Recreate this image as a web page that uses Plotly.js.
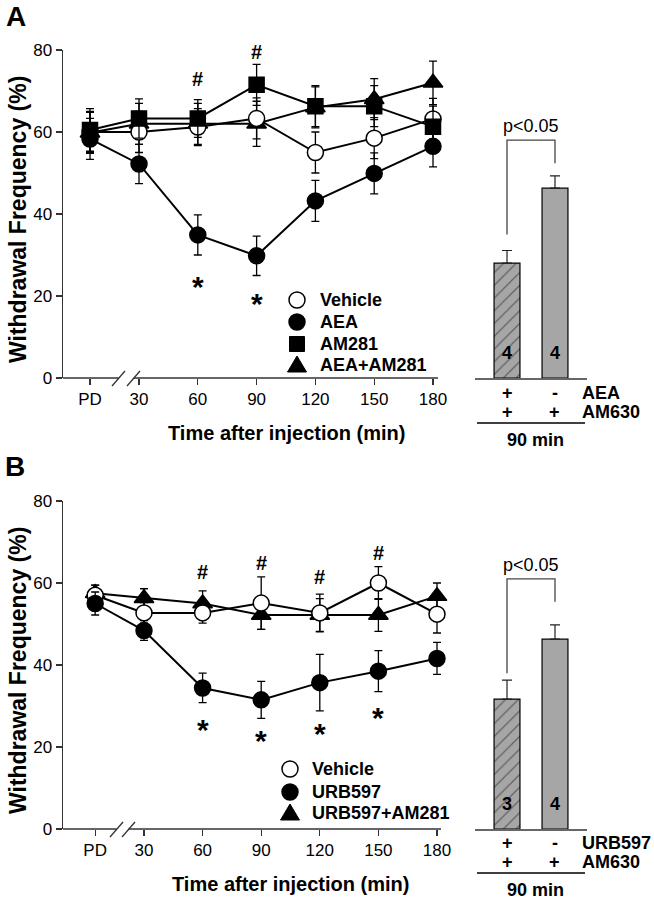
<!DOCTYPE html>
<html><head><meta charset="utf-8">
<script src="https://cdn.plot.ly/plotly-3.0.1.min.js"></script>
<style>html,body{margin:0;padding:0;background:#fff}#chart{width:654px;height:900px}</style>
</head><body><div id="chart"></div>
<script>
// ---------- data ----------
const timeLabels = ['PD','30','60','90','120','150','180'];
const timePos = [5,30,60,90,120,150,180];

// Panel A
const vehicleA = [60, 60, 61.2, 63.3, 55, 58.5, 63.2];
const vehicleAErr = [5, 5, 4.5, 5, 5, 5, 5];
const aeaA = [58.3, 52.2, 34.9, 29.8, 43.2, 49.9, 56.5];
const aeaAErr = [5, 4.8, 4.9, 4.8, 5, 5, 5];
const am281A = [60.5, 63.3, 63.3, 71.5, 66.3, 66.3, 61.3];
const am281AErr = [5.2, 4.8, 4.6, 5, 5, 5, 5];
const aeaAm281A = [59.8, 62, 62, 62, 66, 68, 72];
const aeaAm281AErr = [5, 5, 5, 5.5, 5, 5, 5.3];
const hashAx = [60, 90], hashAy = [73, 79.5];
const starAx = [60, 90], starAy = [24, 20];
const legendA = ['Vehicle', 'AEA', 'AM281', 'AEA+AM281'];

const barPos = [1, 2];
const barA = [28, 46.3], barAErr = [3.1, 3.0], barAN = ['4', '4'];
const barARow1 = ['+', '-'], barARow2 = ['+', '+'];
const barANames = ['AEA', 'AM630'];
const bracketA = [35, 58, 52.4]; // left leg end, top, right leg end

// Panel B
const vehicleB = [57, 52.7, 52.7, 55.1, 52.7, 60, 52.4];
const vehicleBErr = [2.5, 2.5, 2.5, 6.4, 4.6, 4, 4.6];
const urbB = [55, 48.4, 34.4, 31.5, 35.7, 38.5, 41.6];
const urbBErr = [2.8, 2.4, 3.6, 4.5, 6.9, 5, 3.9];
const urbAmB = [57.5, 56.3, 55, 52.2, 52.2, 52.2, 56.8];
const urbAmBErr = [2, 2.3, 3.1, 3.5, 4, 4, 3.2];
const hashBx = [60, 90, 120, 150], hashBy = [62.7, 65, 61.5, 67.3];
const starBx = [60, 90, 120, 150], starBy = [26, 23.4, 24.9, 28.8];
const legendB = ['Vehicle', 'URB597', 'URB597+AM281'];

const barB = [31.7, 46.3], barBErr = [4.6, 3.5], barBN = ['3', '4'];
const barBRow1 = ['+', '-'], barBRow2 = ['+', '+'];
const barBNames = ['URB597', 'AM630'];
const bracketB = [38, 61, 55.4];

// ---------- helpers ----------
const F = 'Arial, "Liberation Sans", Helvetica, sans-serif';
const W = 654, H = 900;
const px = x => x / W, py = y => 1 - y / H;

function lineTrace(y, err, sym, fill, xa, ya, size) {
  return {x: timePos, y: y, type: 'scatter', mode: 'lines+markers', xaxis: xa, yaxis: ya, showlegend: false,
    line: {color: '#000', width: 2},
    marker: {symbol: sym, size: size, color: fill, line: {color: '#000', width: 1.5}},
    error_y: {type: 'data', array: err, visible: true, color: '#000', thickness: 1.3, width: 4},
    cliponaxis: false};
}
function barTrace(y, err, xa, ya) {
  return {x: barPos, y: y, type: 'bar', xaxis: xa, yaxis: ya, width: 0.54, showlegend: false,
    marker: {color: '#a6a6a6', line: {color: '#000', width: 1.2},
      pattern: {shape: ['/', ''], fillmode: 'overlay', fgcolor: '#000', size: 9, solidity: 0.12}},
    error_y: {type: 'data', array: err, arrayminus: [0, 0], symmetric: false, visible: true, color: '#222', thickness: 1.2, width: 5}};
}

const data = [
  lineTrace(aeaAm281A, aeaAm281AErr, 'triangle-up', '#000', 'x', 'y', 17),
  lineTrace(vehicleA, vehicleAErr, 'circle', '#fff', 'x', 'y', 16),
  lineTrace(am281A, am281AErr, 'square', '#000', 'x', 'y', 15),
  lineTrace(aeaA, aeaAErr, 'circle', '#000', 'x', 'y', 16),
  barTrace(barA, barAErr, 'x2', 'y2'),
  lineTrace(urbAmB, urbAmBErr, 'triangle-up', '#000', 'x3', 'y3', 17),
  lineTrace(vehicleB, vehicleBErr, 'circle', '#fff', 'x3', 'y3', 16),
  lineTrace(urbB, urbBErr, 'circle', '#000', 'x3', 'y3', 16),
  barTrace(barB, barBErr, 'x4', 'y4')
];

const tickFont = {family: F, size: 17, color: '#000'};
const yax = (dom, anchor) => ({domain: dom, anchor: anchor, range: [0, 80], tickvals: [0, 20, 40, 60, 80],
  ticks: 'outside', ticklen: 6, tickwidth: 1.3, tickcolor: '#333', showline: true, linecolor: '#333', linewidth: 1.5,
  showgrid: false, zeroline: false, tickfont: tickFont, fixedrange: true});
const xax = (dom, anchor, range) => ({domain: dom, anchor: anchor, range: range, tickvals: timePos, ticktext: timeLabels,
  ticks: 'outside', ticklen: 6, tickwidth: 1.3, tickcolor: '#333', showline: false, showgrid: false, zeroline: false,
  tickfont: tickFont, fixedrange: true});
const barX = (dom, anchor) => ({domain: dom, anchor: anchor, range: [0.333, 2.667], showline: true, linecolor: '#666', linewidth: 1.5,
  ticks: '', showticklabels: false, showgrid: false, zeroline: false, fixedrange: true});
const barY = (dom, anchor) => ({domain: dom, anchor: anchor, range: [0, 80], visible: false, fixedrange: true});

const domA = [py(378), py(50)], domB = [py(829), py(501)];
const layout = {
  width: W, height: H, margin: {l: 0, r: 0, t: 0, b: 0}, paper_bgcolor: '#fff', plot_bgcolor: 'rgba(0,0,0,0)',
  showlegend: false, font: {family: F, color: '#000'},
  xaxis: xax([px(63), px(438)], 'y', [-8.78, 182.55]),
  yaxis: yax(domA, 'x'),
  xaxis2: barX([px(475), px(587)], 'y2'),
  yaxis2: barY(domA, 'x2'),
  xaxis3: xax([px(63), px(441)], 'y3', [-11.47, 182.05]),
  yaxis3: yax(domB, 'x3'),
  xaxis4: barX([px(475), px(587)], 'y4'),
  yaxis4: barY(domB, 'x4'),
  shapes: [], annotations: []
};
const S = layout.shapes, A = layout.annotations;
const note = o => A.push(Object.assign({showarrow: false, xanchor: 'center', yanchor: 'middle'}, o));

// x-axis lines with break
function axisBreak(y, a0, g0, g1, a1) {
  S.push({type: 'line', xref: 'paper', yref: 'paper', x0: px(a0), x1: px(g0), y0: py(y), y1: py(y), line: {color: '#333', width: 1.5}});
  S.push({type: 'line', xref: 'paper', yref: 'paper', x0: px(g1), x1: px(a1), y0: py(y), y1: py(y), line: {color: '#333', width: 1.5}});
  [g0, g1].forEach(s => S.push({type: 'line', xref: 'paper', yref: 'paper', x0: px(s - 6.5), x1: px(s + 6.5), y0: py(y + 8), y1: py(y - 7), line: {color: '#333', width: 1.3}}));
}
axisBreak(378, 63, 118.5, 133.5, 438);
axisBreak(829, 63, 116.5, 128.5, 441);

// significance marks
function marks(xs, ys, ch, size, xa, ya, shift) {
  xs.forEach((x, i) => note({x: x, y: ys[i], xref: xa, yref: ya, text: '<b>' + ch + '</b>',
    font: {family: F, size: size, color: '#000'}, yshift: shift}));
}
marks(hashAx, hashAy, '#', 20, 'x', 'y', 0);
marks(starAx, starAy, '*', 30, 'x', 'y', -7);
marks(hashBx, hashBy, '#', 20, 'x3', 'y3', 0);
marks(starBx, starBy, '*', 30, 'x3', 'y3', -7);

// manual legends
function legend(names, syms, cx, tx, ys) {
  names.forEach((n, i) => {
    const cy = ys[i], s = syms[i];
    if (s === 'open' || s === 'circle') S.push({type: 'circle', xref: 'paper', yref: 'paper', x0: px(cx - 8), x1: px(cx + 8), y0: py(cy + 8), y1: py(cy - 8),
      fillcolor: s === 'open' ? '#fff' : '#000', line: {color: '#000', width: 1.5}});
    else if (s === 'square') S.push({type: 'rect', xref: 'paper', yref: 'paper', x0: px(cx - 7.5), x1: px(cx + 7.5), y0: py(cy + 7.5), y1: py(cy - 7.5),
      fillcolor: '#000', line: {color: '#000', width: 1}});
    else S.push({type: 'path', xref: 'paper', yref: 'paper', path: `M ${px(cx - 9.5)},${py(cy + 7)} L ${px(cx + 9.5)},${py(cy + 7)} L ${px(cx)},${py(cy - 9)} Z`,
      fillcolor: '#000', line: {color: '#000', width: 1}});
    note({x: px(tx), y: py(cy), xref: 'paper', yref: 'paper', xanchor: 'left', text: '<b>' + n + '</b>',
      font: {family: F, size: 18, color: '#000'}});
  });
}
legend(legendA, ['open', 'circle', 'square', 'tri'], 297, 318, [300, 322, 344, 365]);
legend(legendB, ['open', 'circle', 'tri'], 290, 310, [769, 792, 813]);

// bar panel decorations
function barDeco(xa, ya, base, n, r1, r2, names, br) {
  n.forEach((t, i) => note({x: barPos[i], y: 6, xref: xa, yref: ya, text: '<b>' + t + '</b>', font: {family: F, size: 18, color: '#000'}}));
  S.push({type: 'path', xref: xa, yref: ya, path: `M 1,${br[0]} V ${br[1]} H 2 V ${br[2]}`, line: {color: '#444', width: 1.3}});
  note({x: 1.5, y: br[1], xref: xa, yref: ya, yanchor: 'bottom', text: 'p<0.05', yshift: 2, font: {family: F, size: 18, color: '#000'}});
  [r1, r2].forEach((row, j) => row.forEach((t, i) => note({x: barPos[i], y: py(base + 15 + j * 19), xref: xa, yref: 'paper', text: '<b>' + t + '</b>',
    font: {family: F, size: 18, color: '#000'}})));
  names.forEach((t, j) => note({x: px(580), y: py(base + 15 + j * 19), xref: 'paper', yref: 'paper', xanchor: 'left', text: '<b>' + t + '</b>',
    font: {family: F, size: 18, color: '#000'}}));
  S.push({type: 'line', xref: 'paper', yref: 'paper', x0: px(477), x1: px(585), y0: py(base + 45), y1: py(base + 45), line: {color: '#000', width: 1.3}});
  note({x: px(535), y: py(base + 62), xref: 'paper', yref: 'paper', text: '<b>90 min</b>', font: {family: F, size: 18, color: '#000'}});
}
barDeco('x2', 'y2', 378, barAN, barARow1, barARow2, barANames, bracketA);
barDeco('x4', 'y4', 828, barBN, barBRow1, barBRow2, barBNames, bracketB);

// titles and panel letters
const ttl = (text, x, y, angle, size) => note({x: px(x), y: py(y), xref: 'paper', yref: 'paper', text: '<b>' + text + '</b>', textangle: angle,
  font: {family: F, size: size, color: '#000'}});
ttl('Withdrawal Frequency (%)', 18, 220, -90, 23);
ttl('Withdrawal Frequency (%)', 18, 671, -90, 23);
ttl('Time after injection (min)', 286, 433, 0, 20);
ttl('Time after injection (min)', 290, 884, 0, 20);
ttl('A', 16, 17, 0, 28);
ttl('B', 15, 466, 0, 28);

Plotly.newPlot('chart', data, layout, {staticPlot: true, displayModeBar: false});
</script></body></html>
